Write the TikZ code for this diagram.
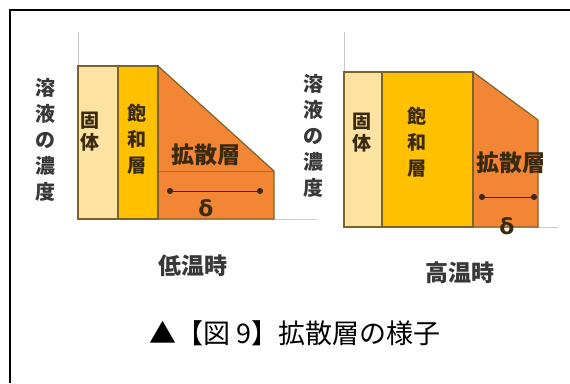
\documentclass[tikz,border=0pt]{standalone}
\usepackage{fontspec}
\newfontfamily\cjk{Noto Sans CJK JP}
\newfontfamily\dvs{DejaVu Sans}
\usetikzlibrary{arrows.meta}
\definecolor{solidc}{HTML}{FDE3A2}
\definecolor{satc}{HTML}{FFC000}
\definecolor{diffc}{HTML}{F28634}
\definecolor{edgec}{HTML}{7F6228}
\definecolor{axisc}{HTML}{C8C8C8}
\definecolor{labc}{HTML}{383838}
\definecolor{inkc}{HTML}{3A2A10}
\tikzset{
  layer/.style={draw=edgec, line width=1.2pt},
  axisline/.style={draw=axisc, line width=0.9pt},
  vlab/.style={font=\cjk\bfseries\fontsize{20}{26}\selectfont, text=labc, align=center, inner sep=0pt},
  blab/.style={font=\cjk\bfseries\fontsize{19}{22}\selectfont, text=inkc, align=center, inner sep=0pt},
  blabw/.style={font=\cjk\bfseries\fontsize{19}{26}\selectfont, text=inkc, align=center, inner sep=0pt},
  hlab/.style={font=\cjk\bfseries\fontsize{23}{24}\selectfont, text=inkc, inner sep=0pt},
  tlab/.style={font=\cjk\bfseries\fontsize{23}{26}\selectfont, text=labc, inner sep=0pt},
  dlt/.style={font=\dvs\bfseries\fontsize{22}{22}\selectfont, text=inkc, inner sep=0pt},
  dimline/.style={draw=inkc, line width=0.8pt, {Circle[length=6pt]}-{Circle[length=6pt]}},
}
\begin{document}
\begin{tikzpicture}[x=1pt,y=-1pt]
\useasboundingbox (0,0) rectangle (570,383);
\fill[white] (0,0) rectangle (570,383);
% frame
\draw[line width=1.4pt] (10,383) -- (10,10) -- (570,10);

% ---------- left chart (low temperature) ----------
\draw[axisline] (78,32) -- (78,219) -- (317,219);
\fill[diffc] (158,66) -- (274,171) -- (274,219) -- (158,219) -- cycle;
\draw[diffc!75!black, line width=0.7pt] (158,171) -- (274,171);
\draw[layer] (158,66) -- (274,171) -- (274,219) -- (158,219);
\draw[layer, fill=solidc] (78,66) rectangle (118,219);
\draw[layer, fill=satc] (118,66) rectangle (158,219);
\node[vlab] (L1) at (45,140) {溶\\液\\の\\濃\\度};
\node[blab] (L2) at (90,132) {固\\体};
\node[blabw] (L3) at (137,139) {飽\\和\\層};
\node[hlab] (L4) at (206,155) {拡散層};
\coordinate (La) at (167,191);
\coordinate (Lb) at (263,191);
\draw[dimline] (La) -- (Lb);
\node[dlt] (L5) at (206,208) {δ};
\node[tlab] (L6) at (193,266) {低温時};

% ---------- right chart (high temperature) ----------
\draw[axisline] (344,32) -- (344,227) -- (558,227);
\fill[diffc] (473,72) -- (538,120) -- (538,227) -- (473,227) -- cycle;
\draw[layer] (473,72) -- (538,120) -- (538,227) -- (473,227);
\draw[layer, fill=solidc] (344,72) rectangle (382,227);
\draw[layer, fill=satc] (382,72) rectangle (473,227);
\node[vlab] (R1) at (313,136) {溶\\液\\の\\濃\\度};
\node[blab] (R2) at (362,133) {固\\体};
\node[blabw] (R3) at (417,142) {飽\\和\\層};
\node[hlab] (R4) at (511,163) {拡散層};
\coordinate (Ra) at (479,197);
\coordinate (Rb) at (537,197);
\draw[dimline] (Ra) -- (Rb);
\node[dlt] (R5) at (507,226) {δ};
\node[tlab] (R6) at (460,273) {高温時};

% ---------- caption ----------
\node[font=\cjk\fontsize{27}{30}\selectfont, inner sep=0pt] (cap) at (295,333) {▲【図 9】拡散層の様子};
\end{tikzpicture}
\end{document}
